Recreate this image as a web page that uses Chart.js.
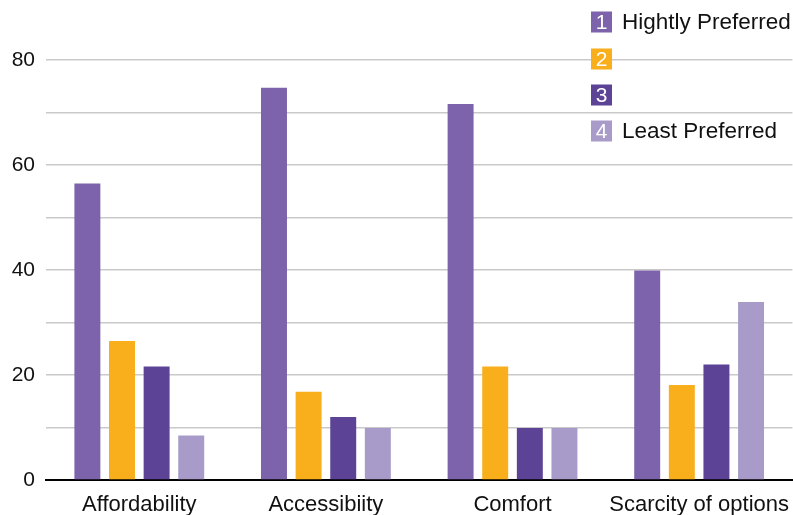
<!DOCTYPE html>
<html>
<head>
<meta charset="utf-8">
<script src="https://cdn.jsdelivr.net/npm/chart.js@4"></script>
<style>
  html, body { margin: 0; padding: 0; background: #ffffff; }
  #wrap { width: 793px; height: 515px; position: relative; }
</style>
</head>
<body>
<div id="wrap"><canvas id="prefChart"></canvas></div>
<script>
// Preference ranking per factor
const categories = ['Affordability', 'Accessibiity', 'Comfort', 'Scarcity of options'];
const rankNumbers = ['1', '2', '3', '4'];
const rankNames = ['Hightly Preferred', '', '', 'Least Preferred'];
const rank1 = [56.5, 74.7, 71.6, 39.9];
const rank2 = [26.5, 16.8, 21.6, 18.1];
const rank3 = [21.6, 12.0, 9.9, 22.0];
const rank4 = [8.5, 9.9, 9.9, 33.9];
const rankColors = ['#7c63ab', '#f9ae1b', '#5c4396', '#a99bc9'];
const yTicks = [0, 20, 40, 60, 80];

const FONT = 'Liberation Sans, Arial, Helvetica, sans-serif';

// numbered legend boxes in the top right corner
const numberedLegend = {
  id: 'numberedLegend',
  afterDraw(chart) {
    const ctx = chart.ctx;
    const x = 591, size = 21;
    const rows = [22, 59, 95, 131];
    ctx.save();
    rankNumbers.forEach((num, i) => {
      const cy = rows[i];
      ctx.fillStyle = rankColors[i];
      ctx.fillRect(x, cy - size / 2, size, size);
      ctx.fillStyle = '#ffffff';
      ctx.font = '21px ' + FONT;
      ctx.textAlign = 'center';
      ctx.textBaseline = 'middle';
      ctx.fillText(num, x + size / 2, cy + 1);
      if (rankNames[i]) {
        ctx.fillStyle = '#111111';
        ctx.font = '22.5px ' + FONT;
        ctx.textAlign = 'left';
        ctx.fillText(rankNames[i], 622, cy + 1);
      }
    });
    ctx.restore();
  }
};

const seriesData = [rank1, rank2, rank3, rank4];

new Chart(document.getElementById('prefChart').getContext('2d'), {
  type: 'bar',
  data: {
    labels: categories,
    datasets: seriesData.map((d, i) => ({
      label: rankNumbers[i],
      data: d,
      backgroundColor: rankColors[i],
      borderWidth: 0,
      categoryPercentage: 0.742,
      barPercentage: 0.75
    }))
  },
  options: {
    responsive: true,
    maintainAspectRatio: false,
    animation: false,
    layout: { padding: { top: 60, left: 0, right: 0, bottom: 0 } },
    plugins: {
      legend: { display: false },
      tooltip: { enabled: false }
    },
    scales: {
      x: {
        grid: { display: false },
        border: { display: true, color: '#000000', width: 2 },
        ticks: {
          color: '#111111',
          font: { family: FONT, size: 22 },
          padding: 4,
          maxRotation: 0,
          autoSkip: false
        },
        afterFit(scale) { scale.height = 35; }
      },
      y: {
        min: 0,
        max: 80,
        grid: { color: '#c9c9c9', lineWidth: 1.5, drawTicks: false },
        border: { display: false },
        ticks: {
          stepSize: 10,
          color: '#111111',
          font: { family: FONT, size: 21 },
          padding: 11,
          callback: v => (yTicks.includes(v) ? v : '')
        },
        afterFit(scale) { scale.width = 46; }
      }
    }
  },
  plugins: [numberedLegend]
});
</script>
</body>
</html>
